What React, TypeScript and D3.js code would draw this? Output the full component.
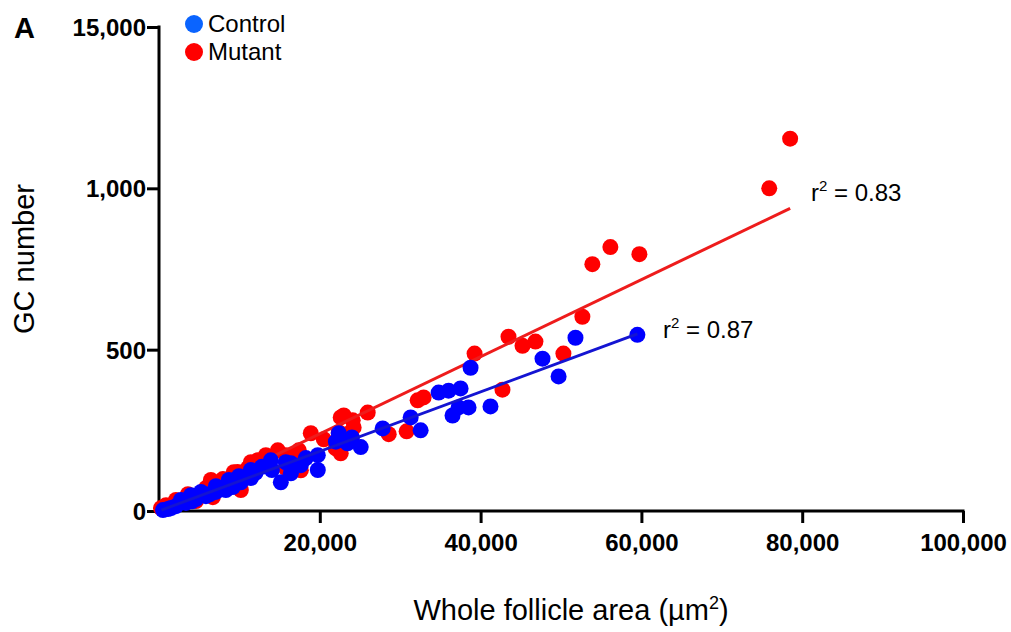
import React, { useEffect, useRef } from 'react';
import * as d3 from 'd3';

// Mutant follicles: whole follicle area (um^2) and GC number
const mutantArea = [
  78500, 75900, 59750, 56140, 53900, 52660, 50300, 46820, 45210, 43470,
  42720, 39250, 32170, 32910, 30800, 28570, 25960, 22980, 24090, 22600,
  23850, 22360, 21980, 18880, 17390, 14780, 13290, 11050, 9300, 7950,
  6460, 5840, 3600, 2110, 870, 250, 17640, 15770, 11800, 12260,
  10180, 8940, 6700, 4600, 9780, 24210, 22600, 11430, 15770, 20500,
  16500, 13800,
];
const mutantGC = [
  1154, 1000, 796, 818, 765, 602, 488, 525, 512, 540,
  376, 488, 343, 352, 247, 238, 305, 296, 281, 290,
  244, 244, 194, 241, 188, 188, 173, 133, 120, 99,
  96, 71, 52, 34, 18, 9, 126, 133, 142, 157,
  65, 77, 43, 31, 121, 259, 179, 151, 173, 222,
  165, 160,
];

// Control follicles
const controlArea = [
  59500, 51800, 47700, 49700, 38750, 34780, 36020, 37510, 37260, 38500,
  36510, 41230, 31300, 32540, 27820, 22360, 23440, 25090, 19750, 19750,
  16400, 15150, 14040, 12790, 11430, 10180, 9190, 8320, 7080, 5840,
  4600, 3350, 2110, 1120, 500, 1490, 17640, 16400, 11430, 9940,
  8690, 7080, 5220, 3970, 2730, 13910, 15770, 18260, 22000, 24000,
  12000, 6300, 4100,
];
const controlGC = [
  546, 537, 472, 417, 444, 367, 373, 380, 321, 321,
  296, 324, 290, 250, 256, 241, 210, 198, 173, 127,
  117, 89, 127, 137, 102, 89, 74, 65, 59, 46,
  37, 25, 15, 6, 3, 9, 142, 148, 127, 108,
  96, 77, 59, 49, 34, 157, 151, 164, 215, 228,
  118, 52, 30,
];

// regression line end points [area, GC]
const mutantFit = [[400, 5], [78500, 938]];
const controlFit = [[300, 3], [59500, 549]];

const xTicks = [20000, 40000, 60000, 80000, 100000];
const yTicks = [0, 500, 1000, 1500];
const yTickLabels = ['0', '500', '1,000', '15,000'];

const W = 1011;
const H = 632;

const App = () => {
  const ref = useRef(null);

  useEffect(() => {
    const svg = d3.select(ref.current);
    svg.selectAll('*').remove();

    const x = d3.scaleLinear().domain([0, 100000]).range([159, 963]);
    const y = d3.scaleLinear().domain([0, 1500]).range([511, 27]);

    const font = 'Arial, "Liberation Sans", sans-serif';

    // x axis
    const xAxis = svg.append('g')
      .attr('transform', `translate(0,${y(0)})`)
      .call(d3.axisBottom(x).tickValues(xTicks).tickSize(12).tickSizeOuter(0)
        .tickFormat(d3.format(',')));
    xAxis.select('.domain').attr('stroke', '#000').attr('stroke-width', 3)
      .attr('d', `M${x(0) - 1.5},0H${x(100000) + 1.5}`);
    xAxis.selectAll('.tick line').attr('stroke', '#000').attr('stroke-width', 3);
    xAxis.selectAll('.tick text')
      .attr('dy', 0).attr('y', 40)
      .attr('font-family', font).attr('font-size', 24).attr('font-weight', 'bold').attr('fill', '#000');

    // little tick under origin
    svg.append('line')
      .attr('x1', x(0)).attr('x2', x(0))
      .attr('y1', y(0)).attr('y2', y(0) + 5)
      .attr('stroke', '#000').attr('stroke-width', 3);

    // y axis
    const yAxis = svg.append('g')
      .attr('transform', `translate(${x(0)},0)`)
      .call(d3.axisLeft(y).tickValues(yTicks).tickSize(12).tickSizeOuter(0)
        .tickFormat((d, i) => yTickLabels[i]));
    yAxis.select('.domain').attr('stroke', '#000').attr('stroke-width', 3)
      .attr('d', `M0,${y(1500) - 1.5}V${y(0) + 1.5}`);
    yAxis.selectAll('.tick line').attr('stroke', '#000').attr('stroke-width', 3);
    yAxis.selectAll('.tick text')
      .attr('x', -13).attr('dy', '0.35em')
      .attr('font-family', font).attr('font-size', 24).attr('font-weight', 'bold').attr('fill', '#000');

    const mutant = mutantArea.map((a, i) => [a, mutantGC[i]]);
    const control = controlArea.map((a, i) => [a, controlGC[i]]);

    const line = d3.line().x(d => x(d[0])).y(d => y(d[1]));

    svg.append('g').selectAll('circle')
      .data(mutant)
      .join('circle')
      .attr('cx', d => x(d[0]))
      .attr('cy', d => y(d[1]))
      .attr('r', 8)
      .attr('fill', '#ff0000');

    svg.append('path')
      .attr('d', line(mutantFit))
      .attr('fill', 'none')
      .attr('stroke', '#ee1c1c')
      .attr('stroke-width', 3);

    svg.append('g').selectAll('circle')
      .data(control)
      .join('circle')
      .attr('cx', d => x(d[0]))
      .attr('cy', d => y(d[1]))
      .attr('r', 8)
      .attr('fill', '#0000ff');

    svg.append('path')
      .attr('d', line(controlFit))
      .attr('fill', 'none')
      .attr('stroke', '#1414d2')
      .attr('stroke-width', 3);

    // r^2 labels
    const r2 = (px, py, val) => {
      const t = svg.append('text')
        .attr('x', px).attr('y', py)
        .attr('font-family', font).attr('font-size', 24).attr('fill', '#000');
      t.append('tspan').text('r');
      t.append('tspan').attr('font-size', 15).attr('dy', -10).text('2');
      t.append('tspan').attr('dy', 10).text(` = ${val}`);
    };
    r2(811, 201, '0.83');
    r2(663, 338, '0.87');

    // axis titles
    svg.append('text')
      .attr('transform', `translate(34,259) rotate(-90)`)
      .attr('text-anchor', 'middle')
      .attr('font-family', font).attr('font-size', 29).attr('fill', '#000')
      .text('GC number');

    const xt = svg.append('text')
      .attr('x', 571).attr('y', 620)
      .attr('text-anchor', 'middle')
      .attr('font-family', font).attr('font-size', 29).attr('fill', '#000');
    xt.append('tspan').text('Whole follicle area (µm');
    xt.append('tspan').attr('font-size', 18).attr('dy', -11).text('2');
    xt.append('tspan').attr('dy', 11).text(')');

    // panel letter
    svg.append('text')
      .attr('x', 14).attr('y', 38)
      .attr('font-family', font).attr('font-size', 29).attr('font-weight', 'bold')
      .text('A');

    // legend
    const legend = [
      { label: 'Control', color: '#0a64ff' },
      { label: 'Mutant', color: '#ff0000' },
    ];
    const lg = svg.append('g').selectAll('g')
      .data(legend)
      .join('g')
      .attr('transform', (d, i) => `translate(194,${24 + i * 28})`);
    lg.append('circle').attr('r', 9).attr('fill', d => d.color);
    lg.append('text')
      .attr('x', 14).attr('y', 8)
      .attr('font-family', font).attr('font-size', 24).attr('fill', '#000')
      .text(d => d.label);
  }, []);

  return (
    <svg ref={ref} width={W} height={H}
      style={{ position: 'absolute', left: 0, top: 0, background: '#fff' }} />
  );
};

export default App;
